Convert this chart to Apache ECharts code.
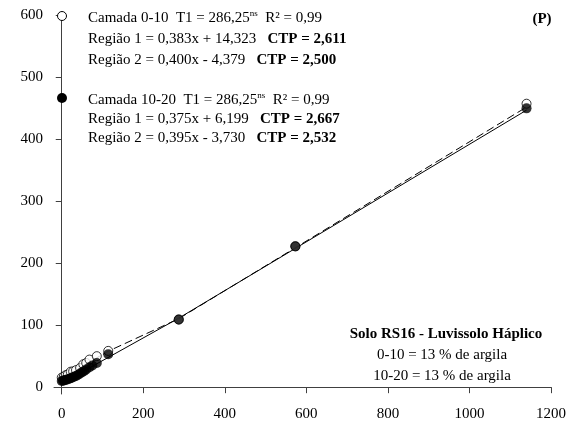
<!DOCTYPE html>
<html>
<head>
<meta charset="utf-8">
<script src="https://cdn.jsdelivr.net/npm/echarts@6/dist/echarts.min.js"></script>
<style>
html,body{margin:0;padding:0;background:#fff;}
#c{width:573px;height:427px;}
</style>
</head>
<body>
<div id="c"></div>
<script>
// Data
var openX = [0, 5, 10, 15, 22, 28, 35, 45, 53, 60, 68, 86, 114, 287, 573, 1140];
var openY = [15.5, 17, 19.5, 20.5, 25, 25.5, 27.5, 31, 37, 39, 44.5, 50, 58.5, 109, 227, 457];
var filledX = [0, 3, 6, 10, 14, 18, 22, 26, 30, 35, 40, 45, 50, 55, 60, 68, 75, 86, 114, 287, 573, 1140];
var filledY = [10, 10.5, 11, 12, 12.5, 13.5, 14.5, 15.5, 17, 18, 20, 22, 24, 26, 28.5, 32, 35, 39, 53, 109, 227, 449.5];
// fitted lines (vertices)
var dashedX = [0, 114, 286.25, 1140];
var dashedY = [14.3, 58, 110.1, 451.6];
var solidX = [0, 286.25, 1140];
var solidY = [6.2, 111, 446.6];
var xTicks = [0, 200, 400, 600, 800, 1000, 1200];
var yTicks = [0, 100, 200, 300, 400, 500, 600];

function pairs(xs, ys){ return xs.map(function(x,i){return [x, ys[i]];}); }

var FONT = '"Liberation Serif", "Times New Roman", serif';
var FS = 15;
var chart = echarts.init(document.getElementById('c'), null, {renderer:'canvas'});
var axisColor = '#404040';

function txt(x, y, text, opts){
  opts = opts || {};
  return {
    type: 'text', x: x, y: y, z: 100,
    style: {
      text: text,
      font: (opts.bold ? 'bold ' : '') + (opts.size || FS) + 'px ' + FONT,
      fill: '#000',
      align: opts.align || 'left',
      verticalAlign: 'middle',
      rich: {
        sup: {fontSize: 9, fontFamily: FONT, verticalAlign: 'bottom', padding: [0,0,9,0]},
        b: {fontSize: FS, fontFamily: FONT, fontWeight: 'bold'}
      }
    }
  };
}

var option = {
  backgroundColor: '#fff',
  animation: false,
  grid: {left: 54, right: 22, top: 15, bottom: 33},
  xAxis: {
    type: 'value', min: -19, max: 1200,
    axisLine: {show: true, lineStyle: {color: axisColor, width: 1}},
    axisTick: {show: true, inside: false, length: 6, lineStyle: {color: axisColor}, customValues: xTicks},
    axisLabel: {color: '#000', fontFamily: FONT, fontSize: FS, margin: 13, customValues: xTicks,
                formatter: function(v){ return String(v); }},
    splitLine: {show: false}
  },
  yAxis: {
    type: 'value', min: -11, max: 600,
    axisLine: {show: true, lineStyle: {color: axisColor, width: 1}},
    axisTick: {show: true, inside: false, length: 6, lineStyle: {color: axisColor}, customValues: yTicks},
    axisLabel: {color: '#000', fontFamily: FONT, fontSize: FS, margin: 11, customValues: yTicks,
                formatter: function(v){ return String(v); }},
    splitLine: {show: false}
  },
  series: [
    {type: 'line', data: pairs(dashedX, dashedY), showSymbol: false, symbol: 'none',
     lineStyle: {color: '#000', width: 1, type: [8, 4]}, z: 2},
    {type: 'line', data: pairs(solidX, solidY), showSymbol: false, symbol: 'none',
     lineStyle: {color: '#000', width: 1}, z: 2},
    {type: 'scatter', data: pairs(openX, openY), symbol: 'circle', symbolSize: 9,
     itemStyle: {color: '#fff', borderColor: '#000', borderWidth: 1}, z: 3},
    {type: 'scatter', data: pairs(filledX, filledY), symbol: 'circle', symbolSize: 10,
     itemStyle: {color: '#000', borderColor: '#000', borderWidth: 0}, z: 4}
  ],
  graphic: [
    {type: 'circle', shape: {cx: 62, cy: 16, r: 4.5}, style: {fill: '#fff', stroke: '#000', lineWidth: 1}, z: 100},
    {type: 'circle', shape: {cx: 62, cy: 98, r: 5}, style: {fill: '#000'}, z: 100},
    txt(88, 18, 'Camada 0-10  T1 = 286,25{sup|ns}  R² = 0,99'),
    txt(88, 39, 'Região 1 = 0,383x + 14,323   {b|CTP = 2,611}'),
    txt(88, 60, 'Região 2 = 0,400x - 4,379   {b|CTP = 2,500}'),
    txt(88, 100, 'Camada 10-20  T1 = 286,25{sup|ns}  R² = 0,99'),
    txt(88, 119, 'Região 1 = 0,375x + 6,199   {b|CTP = 2,667}'),
    txt(88, 138, 'Região 2 = 0,395x - 3,730   {b|CTP = 2,532}'),
    txt(542, 19, '(P)', {bold: true, align: 'center'}),
    txt(446, 334, 'Solo RS16 - Luvissolo Háplico', {bold: true, align: 'center'}),
    txt(442, 355, '0-10 = 13 % de argila', {align: 'center'}),
    txt(442, 376, '10-20 = 13 % de argila', {align: 'center'})
  ]
};
chart.setOption(option);
</script>
</body>
</html>
